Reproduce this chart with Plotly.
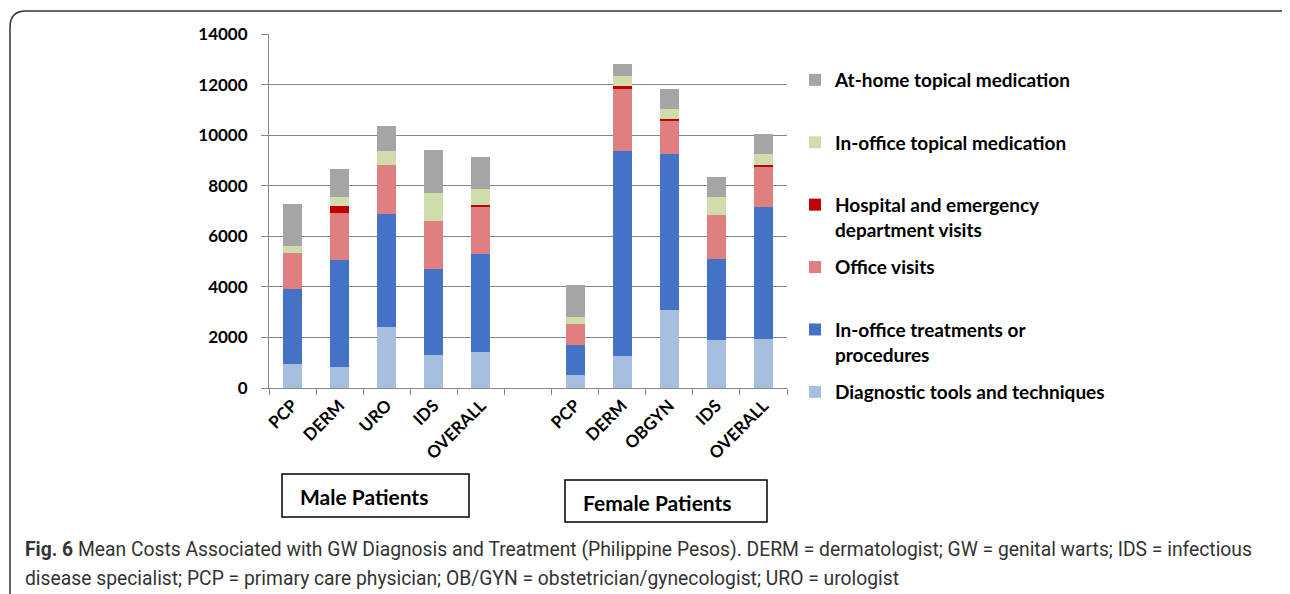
import plotly.graph_objects as go

# ---------------- data ----------------
male_categories = ["PCP", "DERM", "URO", "IDS", "OVERALL"]
female_categories = ["PCP", "DERM", "OBGYN", "IDS", "OVERALL"]

series_names = [
    "Diagnostic tools and techniques",
    "In-office treatments or<br>procedures",
    "Office visits",
    "Hospital and emergency<br>department visits",
    "In-office topical medication",
    "At-home topical medication",
]
series_colors = ["#A7BFDE", "#4472C4", "#E07F7F", "#C00000", "#CFDDAC", "#A5A5A5"]

male_diagnostic = [960, 830, 2400, 1320, 1420]
male_treatment = [2950, 4230, 4490, 3370, 3890]
male_office = [1440, 1860, 1920, 1910, 1860]
male_hospital = [0, 270, 0, 0, 50]
male_inoffice_topical = [260, 350, 560, 1130, 650]
male_athome_topical = [1650, 1120, 990, 1670, 1260]

female_diagnostic = [530, 1250, 3100, 1880, 1930]
female_treatment = [1170, 8130, 6150, 3230, 5240]
female_office = [840, 2450, 1330, 1740, 1600]
female_hospital = [0, 120, 60, 0, 40]
female_inoffice_topical = [250, 380, 390, 690, 450]
female_athome_topical = [1280, 490, 810, 790, 770]

y_ticks = [0, 2000, 4000, 6000, 8000, 10000, 12000, 14000]

male_series = [male_diagnostic, male_treatment, male_office, male_hospital,
               male_inoffice_topical, male_athome_topical]
female_series = [female_diagnostic, female_treatment, female_office, female_hospital,
                 female_inoffice_topical, female_athome_topical]

# unique category keys (female ones get an invisible zero-width suffix)
ZW = "\u200b"
gap_cat = " "
x_cats = male_categories + [gap_cat] + [c + ZW for c in female_categories]

# ---------------- layout geometry ----------------
# the page body has an 8px margin, so the figure is drawn 8px in from the window corner
OX, OY = 8, 8
FW, FH = 1290 - OX, 594 - OY
L, R, T, B = 269 - OX, 787 - OX, 34 - OY, 388 - OY
PW, PH = R - L, B - T


def px(x):
    return (x - OX - L) / PW


def py(y):
    return (B - (y - OY)) / PH


fig = go.Figure()
n_series = len(series_names)
for i, (name, color, ms, fs) in enumerate(zip(series_names, series_colors, male_series, female_series)):
    single = "<br>" not in name
    fig.add_trace(go.Bar(
        x=x_cats,
        y=list(ms) + [None] + list(fs),
        name=(name + "<br> ") if single else name,
        marker=dict(color=color, line=dict(width=0)),
        legendgroup=name,
        legendrank=n_series - i,
    ))

font_main = "Lato, 'Open Sans', sans-serif"

fig.update_layout(
    width=FW, height=FH,
    margin=dict(l=L, r=FW - R, t=T, b=FH - B, autoexpand=False),
    barmode="stack",
    bargap=0.6,
    plot_bgcolor="white",
    paper_bgcolor="white",
    font=dict(family=font_main, size=17, color="black"),
    showlegend=True,
    legend=dict(
        x=px(795), xanchor="left",
        y=py(61), yanchor="top",
        traceorder="grouped",
        font=dict(family=font_main, size=19, color="black", weight="bold"),
        valign="top",
        tracegroupgap=10,
        maxheight=560,
        bgcolor="rgba(0,0,0,0)",
    ),
    xaxis=dict(
        type="category",
        categoryorder="array",
        categoryarray=x_cats,
        range=[-0.5, len(x_cats) - 0.5],
        tickangle=-45,
        tickson="boundaries",
        ticks="outside",
        ticklen=6,
        tickcolor="#878787",
        showline=True,
        linecolor="#878787",
        linewidth=1,
        showgrid=False,
        tickfont=dict(family=font_main, size=17, color="black", weight="bold"),
        fixedrange=True,
    ),
    yaxis=dict(
        range=[0, 14000],
        tickmode="array",
        tickvals=y_ticks,
        ticktext=[str(v) for v in y_ticks],
        ticks="outside",
        ticklen=7,
        tickcolor="#878787",
        showline=True,
        linecolor="#878787",
        linewidth=1,
        showgrid=True,
        gridcolor="#878787",
        gridwidth=1,
        zeroline=False,
        ticklabelstandoff=10,
        tickfont=dict(family=font_main, size=17, color="black", weight="bold"),
        fixedrange=True,
    ),
)

# group boxes
fig.add_shape(type="rect", xref="paper", yref="paper",
              x0=px(282), x1=px(469), y0=py(517), y1=py(474),
              line=dict(color="black", width=1.5), fillcolor="rgba(0,0,0,0)")
fig.add_shape(type="rect", xref="paper", yref="paper",
              x0=px(565), x1=px(767), y0=py(522), y1=py(480),
              line=dict(color="black", width=1.5), fillcolor="rgba(0,0,0,0)")
fig.add_annotation(xref="paper", yref="paper", x=px(298), y=py(496), xanchor="left",
                   yanchor="middle", showarrow=False, text="<b>Male Patients</b>",
                   font=dict(family=font_main, size=21, color="black"))
fig.add_annotation(xref="paper", yref="paper", x=px(581), y=py(502), xanchor="left",
                   yanchor="middle", showarrow=False, text="<b>Female Patients</b>",
                   font=dict(family=font_main, size=21, color="black"))

# outer rounded frame
x0, x1, y0, y1, r = 10, 1300, 11, 610, 16
path = (f"M {px(x0)},{py(y1)} L {px(x0)},{py(y0 + r)} "
        f"Q {px(x0)},{py(y0)} {px(x0 + r)},{py(y0)} "
        f"L {px(x1 - r)},{py(y0)} Q {px(x1)},{py(y0)} {px(x1)},{py(y0 + r)} "
        f"L {px(x1)},{py(y1)}")
fig.add_shape(type="path", xref="paper", yref="paper", path=path,
              line=dict(color="#333333", width=1.5))

# caption
cap_font = dict(family="Roboto, 'Noto Sans', sans-serif", size=19.3, color="#333333")
fig.add_annotation(xref="paper", yref="paper", x=px(23), y=py(549), xanchor="left",
                   yanchor="middle", showarrow=False, font=cap_font, align="left",
                   text="<b>Fig. 6</b> Mean Costs Associated with GW Diagnosis and Treatment (Philippine Pesos). "
                        "DERM = dermatologist; GW = genital warts; IDS = infectious")
fig.add_annotation(xref="paper", yref="paper", x=px(23), y=py(578), xanchor="left",
                   yanchor="middle", showarrow=False, font=cap_font, align="left",
                   text="disease specialist; PCP = primary care physician; OB/GYN = obstetrician/gynecologist; "
                        "URO = urologist")

fig.write_html("out.html")
